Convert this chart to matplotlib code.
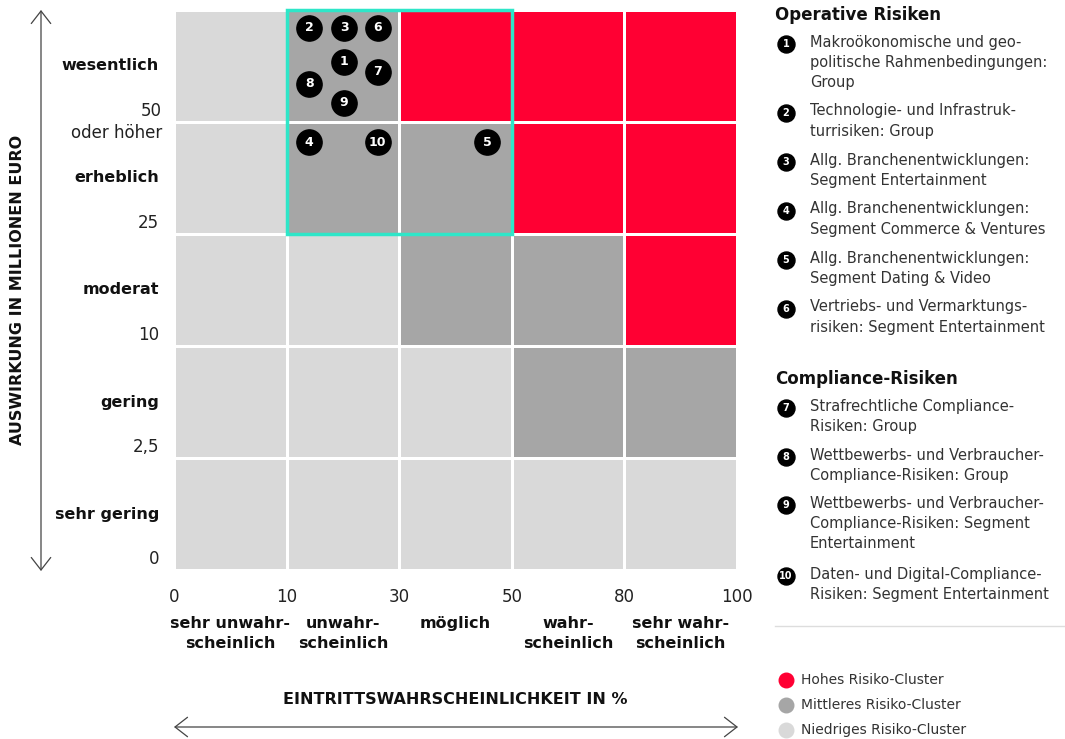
import numpy as np
import matplotlib.pyplot as plt
from matplotlib.colors import ListedColormap
from matplotlib.patches import Rectangle

W, H = 1065, 739
RED, MID, LOW = '#FF0033', '#A6A6A6', '#D9D9D9'
CYAN = '#2EE6C8'

prob_ticks = ['0', '10', '30', '50', '80', '100']
prob_cats = ['sehr unwahr-\nscheinlich', 'unwahr-\nscheinlich', 'möglich',
             'wahr-\nscheinlich', 'sehr wahr-\nscheinlich']
impact_ticks = ['0', '2,5', '10', '25', '50\noder höher']
impact_cats = ['sehr gering', 'gering', 'moderat', 'erheblich', 'wesentlich']

# cluster of each cell, rows from bottom to top: 0 low, 1 medium, 2 high
cluster = [[0, 0, 0, 0, 0],
           [0, 0, 0, 1, 1],
           [0, 0, 1, 1, 2],
           [0, 1, 1, 2, 2],
           [0, 1, 2, 2, 2]]

# risk positions in cell units (x: probability class, y: impact class)
risk_ids = [1, 2, 3, 4, 5, 6, 7, 8, 9, 10]
risk_x = [1.51, 1.20, 1.51, 1.20, 2.78, 1.81, 1.81, 1.20, 1.51, 1.81]
risk_y = [4.54, 4.84, 4.84, 3.82, 3.82, 4.84, 4.45, 4.34, 4.17, 3.82]

operative = ['Makroökonomische und geo-\npolitische Rahmenbedingungen:\nGroup',
             'Technologie- und Infrastruk-\nturrisiken: Group',
             'Allg. Branchenentwicklungen:\nSegment Entertainment',
             'Allg. Branchenentwicklungen:\nSegment Commerce & Ventures',
             'Allg. Branchenentwicklungen:\nSegment Dating & Video',
             'Vertriebs- und Vermarktungs-\nrisiken: Segment Entertainment']
compliance = ['Strafrechtliche Compliance-\nRisiken: Group',
              'Wettbewerbs- und Verbraucher-\nCompliance-Risiken: Group',
              'Wettbewerbs- und Verbraucher-\nCompliance-Risiken: Segment\nEntertainment',
              'Daten- und Digital-Compliance-\nRisiken: Segment Entertainment']
cluster_names = ['Hohes Risiko-Cluster', 'Mittleres Risiko-Cluster', 'Niedriges Risiko-Cluster']

plt.rcParams['font.family'] = 'DejaVu Sans'
fig = plt.figure(figsize=(W / 100, H / 100), dpi=100)

ax = fig.add_axes([174 / W, 1 - 570 / H, 563 / W, 560 / H])
cmap = ListedColormap([LOW, MID, RED])
ax.pcolormesh(np.arange(6), np.arange(6), np.array(cluster), cmap=cmap,
              vmin=-0.5, vmax=2.5, edgecolors='white', linewidth=1.8)
ax.add_patch(Rectangle((1, 3), 2, 2, fill=False, edgecolor=CYAN, lw=2.5,
                       clip_on=False, zorder=3))
ax.set_xlim(0, 5)
ax.set_ylim(0, 5)
for s in ax.spines.values():
    s.set_visible(False)
ax.set_xticks([])
ax.set_yticks([])

ax.scatter(risk_x, risk_y, s=330, color='black', zorder=4, clip_on=False)
for i, x, y in zip(risk_ids, risk_x, risk_y):
    ax.text(x, y, str(i), color='white', fontsize=9, fontweight='bold',
            ha='center', va='center', zorder=5)

# x axis labels
tr_x = ax.get_xaxis_transform()
for i, t in enumerate(prob_ticks):
    ax.text(i, -27 / 560, t, transform=tr_x, ha='center', va='center', fontsize=12, color='#222')
for i, t in enumerate(prob_cats):
    ax.text(i + 0.5, -46 / 560, t, transform=tr_x, ha='center', va='top', fontsize=11.5,
            fontweight='bold', color='#111', linespacing=1.45)

# y axis labels
tr_y = ax.get_yaxis_transform()
for i, t in enumerate(impact_ticks):
    if '\n' in t:
        ax.text(-12 / 563, i, t, transform=tr_y, ha='right', va='center', fontsize=12,
                color='#222', linespacing=1.3, multialignment='right')
    else:
        ax.text(-15 / 563, i + 0.02, t, transform=tr_y, ha='right', va='bottom', fontsize=12,
                color='#222')
for i, t in enumerate(impact_cats):
    ax.text(-15 / 563, i + 0.5, t, transform=tr_y, ha='right', va='center', fontsize=11.5,
            fontweight='bold', color='#111')

# overlay in pixel coordinates for titles, arrows and the key
ov = fig.add_axes([0, 0, 1, 1], zorder=5)
ov.set_xlim(0, W)
ov.set_ylim(H, 0)
ov.axis('off')
ov.patch.set_visible(False)

arrow = dict(arrowstyle='<->,head_length=0.45,head_width=0.35', lw=0.9, color='#444',
             mutation_scale=20, shrinkA=0, shrinkB=0)
ov.annotate('', xy=(41, 10), xytext=(41, 571), arrowprops=arrow)
ov.annotate('', xy=(174, 727), xytext=(738, 727), arrowprops=arrow)
ov.text(18, 290, 'AUSWIRKUNG IN MILLIONEN EURO', rotation=90, ha='center', va='center',
        fontsize=11.5, fontweight='bold', color='#111')
ov.text(455, 700, 'EINTRITTSWAHRSCHEINLICHKEIT IN %', ha='center', va='center',
        fontsize=11.5, fontweight='bold', color='#111')

def key_block(title, title_y, items, ids, ys):
    ov.text(775, title_y, title, ha='left', va='center', fontsize=12, fontweight='bold',
            color='#111')
    for n, text, y in zip(ids, items, ys):
        ov.scatter([786], [y + 2], s=150, color='black')
        ov.text(786, y + 2, str(n), color='white', fontsize=7, fontweight='bold',
                ha='center', va='center')
        for k, line in enumerate(text.split('\n')):
            ov.text(810, y + k * 20.5, line, ha='left', va='center', fontsize=10.5,
                    color='#333')

key_block('Operative Risiken', 15, operative, risk_ids[:6], [42, 111, 160, 209, 258, 307])
key_block('Compliance-Risiken', 379, compliance, risk_ids[6:], [406, 455, 503, 574])

ov.plot([775, 1065], [626, 626], color='#DDDDDD', lw=1)
for name, c, y in zip(cluster_names, [RED, MID, LOW], [680, 705, 730]):
    ov.scatter([786], [y], s=110, color=c)
    ov.text(801, y, name, ha='left', va='center', fontsize=10, color='#333')

fig.savefig('out.png', dpi=100)
